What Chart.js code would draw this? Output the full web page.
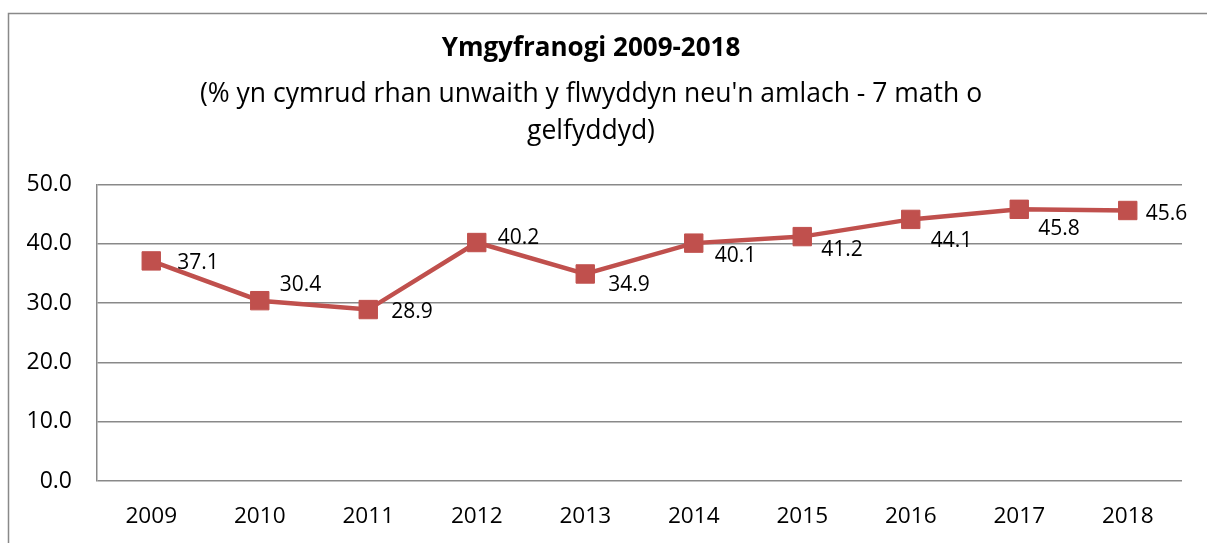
<!DOCTYPE html>
<html>
<head>
<meta charset="utf-8">
<script src="https://cdn.jsdelivr.net/npm/chart.js@4.4.1/dist/chart.umd.min.js"></script>
<style>
    html, body { margin: 0; padding: 0; background: #fff; }
    #box { width: 1207px; height: 543px; position: relative; }
</style>
</head>
<body>
<div id="box"><canvas id="chart"></canvas></div>
<script>
const years = ['2009', '2010', '2011', '2012', '2013', '2014', '2015', '2016', '2017', '2018'];
const participation = [37.1, 30.4, 28.9, 40.2, 34.9, 40.1, 41.2, 44.1, 45.8, 45.6];
const yTicks = [0, 10, 20, 30, 40, 50];
const titleText = 'Ymgyfranogi 2009-2018';
const subtitleLines = ["(% yn cymrud rhan unwaith y flwyddyn neu'n amlach - 7 math o", 'gelfyddyd)'];

// label nudges (dx to the text's left edge, dy to its middle), as placed in the original
const labelNudge = [[26, 2], [20, -16], [23, 2], [21, -5], [23, 11], [21, 13], [19, 13], [20, 22], [19, 20], [18, 4]];

const FONT = "'Open Sans', 'DejaVu Sans', sans-serif";
const RED = '#C0504D';
const GREY = '#898989';

const frame = {
    id: 'frame',
    beforeDraw(chart) {
        const ctx = chart.ctx;
        ctx.save();
        ctx.strokeStyle = GREY;
        ctx.lineWidth = 1.5;
        ctx.strokeRect(8.5, 13.5, 1400, 800);
        ctx.restore();
    }
};

const valueLabels = {
    id: 'valueLabels',
    afterDatasetsDraw(chart) {
        const ctx = chart.ctx;
        const meta = chart.getDatasetMeta(0);
        ctx.save();
        ctx.font = '21px ' + FONT;
        ctx.fillStyle = '#000';
        ctx.textAlign = 'left';
        ctx.textBaseline = 'middle';
        meta.data.forEach((pt, i) => {
            const n = labelNudge[i];
            ctx.fillText(participation[i].toFixed(1), pt.x + n[0], pt.y + n[1]);
        });
        ctx.restore();
    }
};

new Chart(document.getElementById('chart'), {
    type: 'line',
    data: {
        labels: years,
        datasets: [{
            data: participation,
            borderColor: RED,
            backgroundColor: RED,
            borderWidth: 4.5,
            pointStyle: 'rect',
            pointRadius: 13,
            pointBorderWidth: 1,
            pointBorderColor: RED,
            pointBackgroundColor: RED,
            tension: 0,
        }]
    },
    options: {
        responsive: true,
        maintainAspectRatio: false,
        animation: false,
        layout: { padding: { left: 0, right: 25, top: 0, bottom: 0 } },
        plugins: {
            legend: { display: false },
            tooltip: { enabled: false },
            title: {
                display: true,
                text: titleText,
                color: '#000',
                font: { family: FONT, size: 26, weight: 'bold', lineHeight: 1.2 },
                padding: { top: 33, bottom: 0 },
            },
            subtitle: {
                display: true,
                text: subtitleLines,
                color: '#000',
                font: { family: FONT, size: 26.5, lineHeight: 1.4 },
                padding: { top: 12, bottom: 34 },
            }
        },
        scales: {
            x: {
                offset: true,
                grid: { display: false, drawTicks: false },
                border: { display: false },
                ticks: { color: '#000', padding: 22, font: { family: FONT, size: 22.6 } },
                afterFit(scale) { scale.height = 62; }
            },
            y: {
                min: 0,
                max: 50,
                afterBuildTicks(scale) { scale.ticks = yTicks.map(v => ({ value: v })); },
                grid: { color: GREY, lineWidth: 1.5, drawTicks: false },
                border: { display: true, color: GREY, width: 1.5 },
                ticks: {
                    color: '#000',
                    padding: 25,
                    font: { family: FONT, size: 23 },
                    callback: v => Number(v).toFixed(1)
                },
                afterFit(scale) { scale.width = 97; }
            }
        }
    },
    plugins: [frame, valueLabels]
});
</script>
</body>
</html>
